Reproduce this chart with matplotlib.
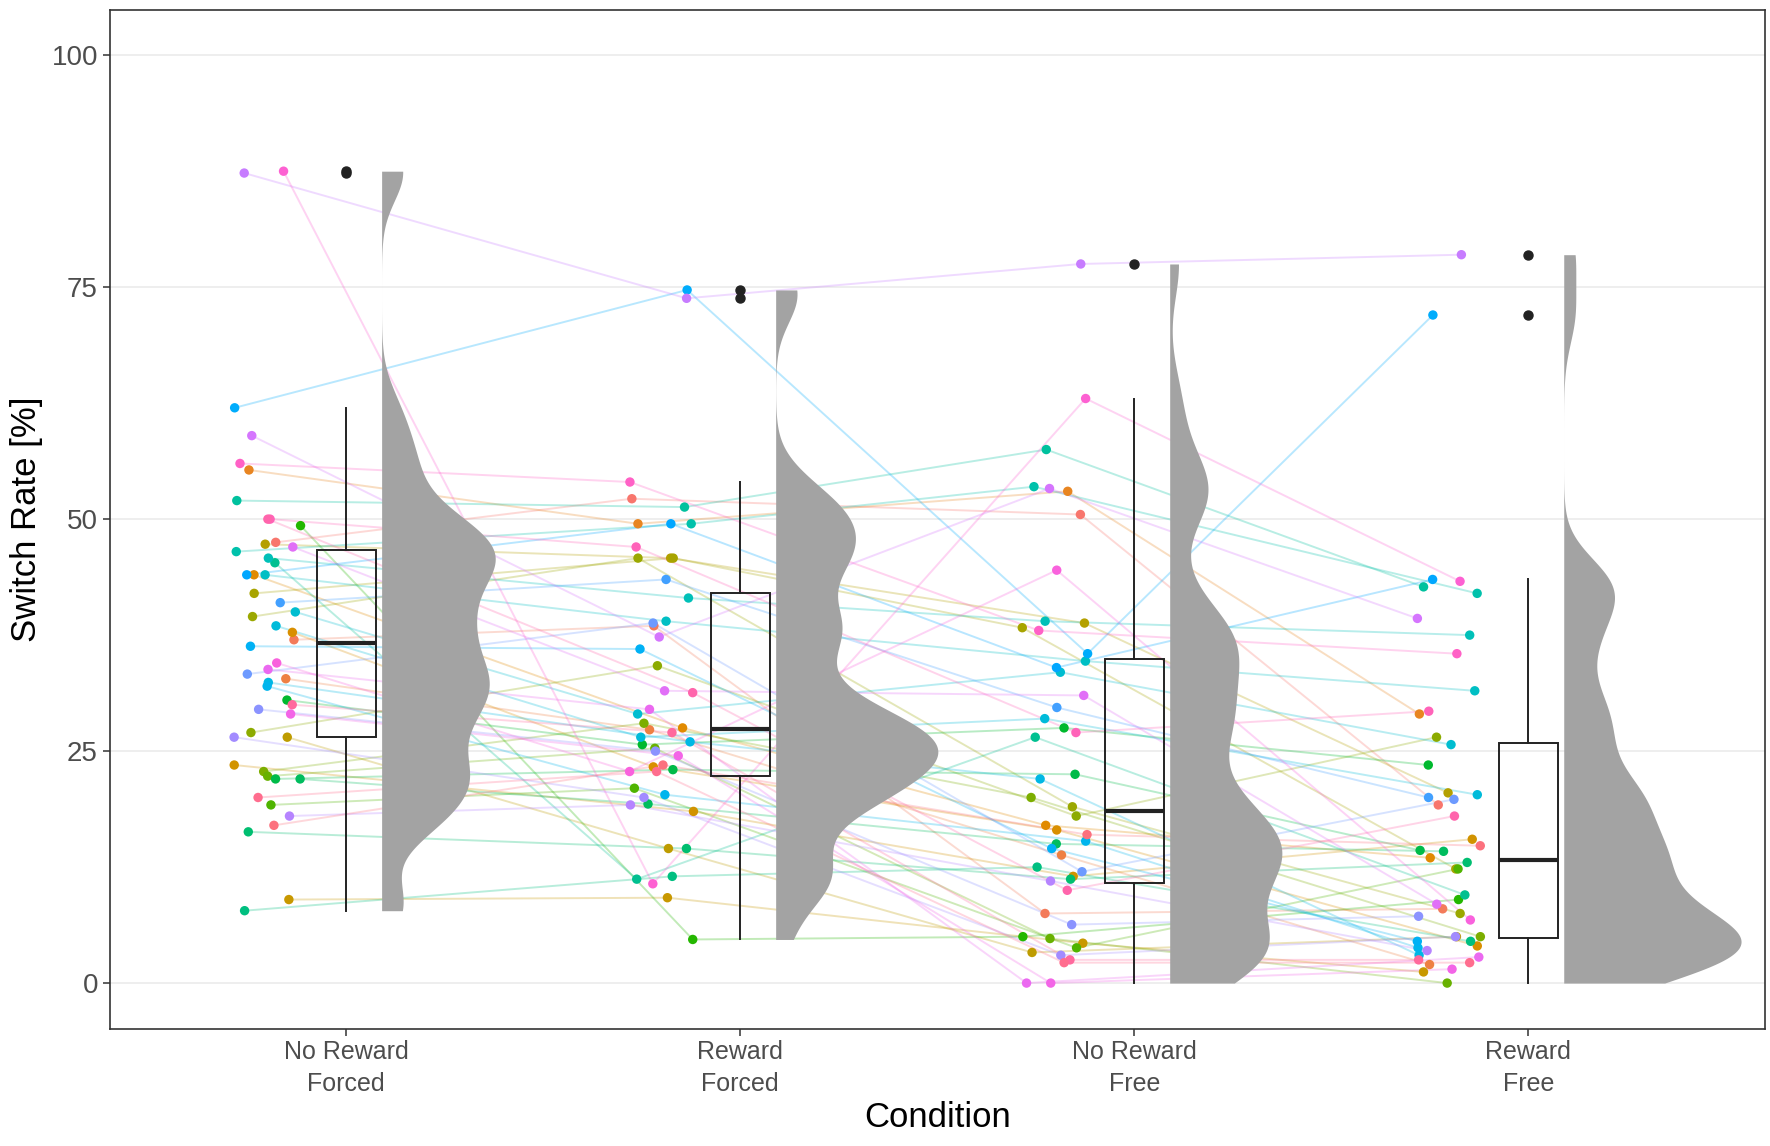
import numpy as np
import matplotlib
matplotlib.use("Agg")
from matplotlib import pyplot as plt

plt.rcParams['font.family'] = ['Liberation Sans', 'DejaVu Sans']

conditions = ['No Reward\nForced', 'Reward\nForced', 'No Reward\nFree', 'Reward\nFree']

# one value per subject, subjects in colour (hue) order
no_reward_forced = [47.5, 37.0, 32.8, 55.3, 44.0, 37.8, 23.5, 9.0, 26.5,
                    47.3, 42.0, 39.5, 27.0, 22.8, 22.3, 19.2, 49.3,
                    30.5, 22.0, 22.0, 16.3, 7.8, 45.3,
                    52.0, 46.5, 45.8, 44.0, 40.0, 38.5, 32.4, 32.0, 36.3,
                    62.0, 44.0, 41.0, 33.3, 29.5, 26.5, 18.0,
                    87.3, 59.0, 47.0, 33.8, 29.0, 34.5,
                    87.5, 56.0, 50.0, 50.0, 30.0, 20.0, 17.0]
reward_forced = [52.2, 38.5, 27.3, 49.5, 27.5, 23.3, 18.5, 9.2, 14.5,
                 45.8, 45.8, 45.8, 34.2, 28.0, 25.3, 21.0, 4.7,
                 25.7, 23.0, 19.3, 14.5, 11.5, 11.2,
                 51.3, 49.5, 41.5, 39.0, 29.0, 26.5, 26.0, 20.3, 36.0,
                 74.7, 49.5, 43.5, 38.8, 25.0, 20.0, 19.2,
                 73.8, 37.3, 31.5, 29.5, 24.5, 22.8,
                 10.7, 54.0, 47.0, 31.3, 27.0, 22.8, 23.5]
no_reward_free = [50.5, 7.5, 13.8, 53.0, 17.0, 16.5, 11.5, 4.3, 3.3,
                  38.8, 38.3, 19.0, 18.0, 20.0, 4.8, 3.8, 5.0,
                  27.5, 22.5, 15.0, 11.2, 12.5, 26.5,
                  57.5, 53.5, 39.0, 34.7, 33.5, 28.5, 22.0, 15.3, 14.5,
                  35.5, 34.0, 29.7, 12.0, 6.3, 3.0, 11.0,
                  77.5, 53.3, 31.0, 0.0, 0.0, 44.5,
                  63.0, 38.0, 27.0, 10.0, 2.5, 2.2, 16.0]
reward_free = [19.2, 8.0, 2.0, 29.0, 13.5, 4.0, 15.5, 1.2, 5.0,
               20.5, 12.3, 7.5, 26.5, 5.0, 0.0, 12.3, 9.0,
               23.5, 14.3, 14.2, 13.0, 4.5, 9.5,
               42.7, 42.0, 37.5, 31.5, 25.7, 20.3, 3.0, 3.8, 4.5,
               72.0, 43.5, 20.0, 19.8, 7.2, 5.0, 3.5,
               78.5, 39.3, 8.5, 2.8, 1.5, 6.8,
               43.3, 35.5, 29.3, 18.0, 2.5, 2.2, 14.8]

data = np.array([no_reward_forced, reward_forced, no_reward_free, reward_free])
n_cond, n_sub = data.shape
pos = np.arange(1, n_cond + 1)


def hcl_color(h, c=100.0, l=65.0):
    # ggplot2 hue_pal style colour (polar Luv -> sRGB)
    hr = np.deg2rad(h)
    u, v = c * np.cos(hr), c * np.sin(hr)
    xn, yn, zn = 95.047, 100.0, 108.883
    un = 4 * xn / (xn + 15 * yn + 3 * zn)
    vn = 9 * yn / (xn + 15 * yn + 3 * zn)
    y = yn * ((l + 16) / 116) ** 3
    up = u / (13 * l) + un
    vp = v / (13 * l) + vn
    x = y * 9 * up / (4 * vp)
    z = y * (12 - 3 * up - 20 * vp) / (4 * vp)
    m = np.array([[3.2404542, -1.5371385, -0.4985314],
                  [-0.9692660, 1.8760108, 0.0415560],
                  [0.0556434, -0.2040259, 1.0572252]])
    rgb = m @ (np.array([x, y, z]) / 100.0)
    rgb = np.where(rgb <= 0.0031308, 12.92 * rgb, 1.055 * np.clip(rgb, 0, None) ** (1 / 2.4) - 0.055)
    return tuple(np.clip(rgb, 0, 1))


hues = np.linspace(15, 375, n_sub + 1)[:-1]
colors = [hcl_color(h) for h in hues]

fig = plt.figure(figsize=(17.7, 11.46), dpi=100)
ax = fig.add_axes([0.062, 0.1025, 0.935, 0.889])

# jittered point positions left of each box
rng = np.random.default_rng(7)
xj = pos[:, None] - 0.2 + rng.uniform(-0.085, 0.085, size=(n_cond, n_sub))

for s in range(n_sub):
    ax.plot(xj[:, s], data[:, s], color=colors[s], alpha=0.28, lw=1.4, zorder=1)
for c in range(n_cond):
    ax.scatter(xj[c], data[c], s=46, color=colors, zorder=2, linewidths=0)


# half violins (equal area, trimmed to range)
def kde(vals, grid, adjust=0.5):
    vals = np.asarray(vals)
    q75, q25 = np.percentile(vals, [75, 25])
    bw = adjust * 0.9 * min(vals.std(ddof=1), (q75 - q25) / 1.34) * len(vals) ** -0.2
    d = np.exp(-0.5 * ((grid[:, None] - vals[None, :]) / bw) ** 2).sum(axis=1)
    return d / (len(vals) * bw * np.sqrt(2 * np.pi))


dens = []
for c in range(n_cond):
    g = np.linspace(data[c].min(), data[c].max(), 500)
    dens.append((g, kde(data[c], g)))
scale = 0.45 / max(d.max() for _, d in dens)
for c, (g, d) in enumerate(dens):
    x0 = pos[c] + 0.09
    ax.fill_betweenx(g, x0, x0 + d * scale, color='#A3A3A3', lw=0, zorder=3)

bp = ax.boxplot(data.T, positions=pos, widths=0.15, whis=1.5, patch_artist=True,
                showcaps=False, manage_ticks=False,
                boxprops=dict(facecolor='none', edgecolor='#222222', lw=1.4),
                whiskerprops=dict(color='#222222', lw=1.4),
                medianprops=dict(color='#222222', lw=3),
                flierprops=dict(marker='o', markerfacecolor='#222222', markeredgecolor='#222222',
                                markersize=6.5))
for k in bp:
    for a in bp[k]:
        a.set_zorder(4)

ax.set_xlim(0.4, 4.6)
ax.set_ylim(-4.9, 104.9)
ax.set_yticks([0, 25, 50, 75, 100])
ax.set_xticks(pos)
ax.set_xticklabels(conditions, linespacing=1.4)
ax.yaxis.grid(True, color='#EBEBEB', lw=1.2, zorder=0)
ax.set_axisbelow(True)
for sp in ax.spines.values():
    sp.set_color('#333333')
    sp.set_linewidth(1.2)
ax.tick_params(axis='both', colors='#333333', labelcolor='#4D4D4D', length=5, width=1.1)
ax.tick_params(axis='x', labelsize=18)
ax.tick_params(axis='y', labelsize=20)
ax.set_xlabel('Condition', fontsize=25, labelpad=4)
ax.set_ylabel('Switch Rate [%]', fontsize=25, labelpad=6)

fig.savefig('out.png', dpi=100)
